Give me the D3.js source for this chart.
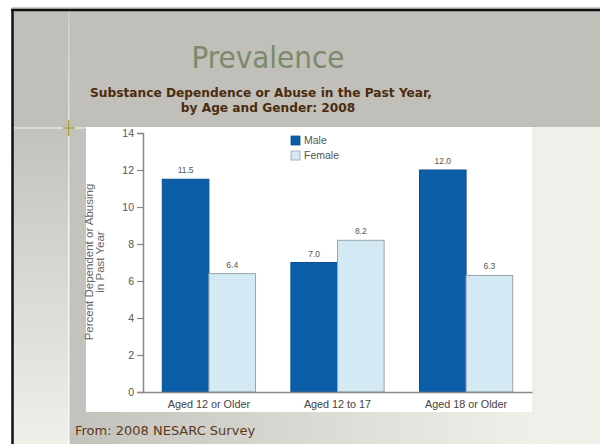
<!DOCTYPE html>
<html>
<head>
<meta charset="utf-8">
<script src="https://cdn.jsdelivr.net/npm/d3@7"></script>
<style>
  body { margin: 0; background: #fff; }
  svg { display: block; }
</style>
</head>
<body>
<div id="chartHolder"></div>
<script>
// data
const groups = ["Aged 12 or Older", "Aged 12 to 17", "Aged 18 or Older"];
const series = ["Male", "Female"];
const maleValues = [11.5, 7.0, 12.0];
const femaleValues = [6.4, 8.2, 6.3];
const yTicks = [0, 2, 4, 6, 8, 10, 12, 14];

const w = 600;
const h = 444;

const svg = d3.select("#chartHolder").append("svg")
  .attr("width", w)
  .attr("height", h);

const defs = svg.append("defs");
const gMain = defs.append("linearGradient").attr("id", "gMain")
  .attr("x1", "0").attr("y1", "0").attr("x2", "1").attr("y2", "0");
gMain.append("stop").attr("offset", "0").attr("stop-color", "#c3c1bb");
gMain.append("stop").attr("offset", "0.85").attr("stop-color", "#efeee8");
gMain.append("stop").attr("offset", "1").attr("stop-color", "#f1f0ea");
const gLeft = defs.append("linearGradient").attr("id", "gLeft")
  .attr("x1", "0").attr("y1", "0").attr("x2", "0").attr("y2", "1");
gLeft.append("stop").attr("offset", "0").attr("stop-color", "#c3c1bb");
gLeft.append("stop").attr("offset", "1").attr("stop-color", "#f0efe9");
const gVert = defs.append("linearGradient").attr("id", "gVert")
  .attr("x1", "0").attr("y1", "0").attr("x2", "0").attr("y2", "1");
gVert.append("stop").attr("offset", "0").attr("stop-color", "#d0d0d4");
gVert.append("stop").attr("offset", "0.5").attr("stop-color", "#f4f4f4");
gVert.append("stop").attr("offset", "1").attr("stop-color", "#fafafa");

// slide background
svg.append("rect").attr("x", 12).attr("y", 10).attr("width", w - 12).attr("height", 117)
  .attr("fill", "#c1bfb9");
svg.append("rect").attr("x", 69).attr("y", 127).attr("width", w - 69).attr("height", h - 127)
  .attr("fill", "url(#gMain)");
svg.append("rect").attr("x", 12).attr("y", 127).attr("width", 57).attr("height", h - 127)
  .attr("fill", "url(#gLeft)");

// decorative lines
svg.append("rect").attr("x", 68).attr("y", 10).attr("width", 1.5).attr("height", h - 10)
  .attr("fill", "url(#gVert)");
svg.append("line").attr("x1", 14).attr("x2", 86).attr("y1", 128).attr("y2", 128)
  .attr("stroke", "#e2e2e4").attr("stroke-width", 1.5);
svg.append("line").attr("x1", 63).attr("x2", 75).attr("y1", 128).attr("y2", 128)
  .attr("stroke", "#a9a53a").attr("stroke-width", 1.5);
svg.append("line").attr("x1", 68.7).attr("x2", 68.7).attr("y1", 120).attr("y2", 136)
  .attr("stroke", "#a9a53a").attr("stroke-width", 1.5);

// border
svg.append("line").attr("x1", 12).attr("x2", w).attr("y1", 8).attr("y2", 8)
  .attr("stroke", "#999").attr("stroke-width", 1);
svg.append("line").attr("x1", 11).attr("x2", w).attr("y1", 10).attr("y2", 10)
  .attr("stroke", "#111").attr("stroke-width", 2.5);
svg.append("line").attr("x1", 12.5).attr("x2", 12.5).attr("y1", 9).attr("y2", h)
  .attr("stroke", "#111").attr("stroke-width", 2.5);

// titles
svg.append("text")
  .attr("x", 268).attr("y", 68)
  .attr("text-anchor", "middle")
  .style("font-family", "'Liberation Sans Narrow', 'DejaVu Sans Condensed', sans-serif")
  .style("font-stretch", "condensed")
  .style("font-size", "31px")
  .attr("fill", "#7a8a6b")
  .text("Prevalence");
svg.append("text")
  .attr("x", 261).attr("y", 97)
  .attr("text-anchor", "middle")
  .style("font-family", "'DejaVu Sans', sans-serif")
  .style("font-weight", "bold")
  .style("font-size", "12.2px")
  .attr("fill", "#4b2c0e")
  .text("Substance Dependence or Abuse in the Past Year,");
svg.append("text")
  .attr("x", 268).attr("y", 112)
  .attr("text-anchor", "middle")
  .style("font-family", "'DejaVu Sans', sans-serif")
  .style("font-weight", "bold")
  .style("font-size", "12.2px")
  .attr("fill", "#4b2c0e")
  .text("by Age and Gender: 2008");

// chart panel
svg.append("rect").attr("x", 86).attr("y", 127).attr("width", 446).attr("height", 285)
  .attr("fill", "#fff");

const x0 = d3.scaleBand()
  .domain(groups)
  .range([143, 532])
  .paddingInner(0.275)
  .paddingOuter(0.15);
const x1 = d3.scaleBand()
  .domain(series)
  .range([0, x0.bandwidth()]);
const y = d3.scaleLinear()
  .domain([0, 14])
  .range([392, 133]);
const color = d3.scaleOrdinal().domain(series).range(["#0b5ea8", "#d3e9f3"]);
const strokeC = d3.scaleOrdinal().domain(series).range(["#0a4f8e", "#9aa4aa"]);

const rows = groups.map((g, i) => ({
  group: g,
  vals: [{ s: "Male", v: maleValues[i] }, { s: "Female", v: femaleValues[i] }]
}));

const gGroups = svg.selectAll(".grp")
  .data(rows)
  .enter()
  .append("g")
  .attr("class", "grp")
  .attr("transform", (d) => "translate(" + x0(d.group) + ",0)");

gGroups.selectAll("rect")
  .data((d) => d.vals)
  .enter()
  .append("rect")
  .attr("x", (d) => x1(d.s))
  .attr("y", (d) => y(d.v))
  .attr("width", x1.bandwidth())
  .attr("height", (d) => y(0) - y(d.v))
  .attr("fill", (d) => color(d.s))
  .attr("stroke", (d) => strokeC(d.s))
  .attr("stroke-width", 1);

gGroups.selectAll(".val")
  .data((d) => d.vals)
  .enter()
  .append("text")
  .attr("class", "val")
  .attr("x", (d) => x1(d.s) + x1.bandwidth() / 2)
  .attr("y", (d) => y(d.v) - 6)
  .attr("text-anchor", "middle")
  .style("font-family", "'Liberation Sans', Arial, sans-serif")
  .style("font-size", "8.5px")
  .attr("fill", "#555")
  .text((d) => d.v.toFixed(1));

// axes
const yAxis = d3.axisLeft(y).tickValues(yTicks).tickSize(6).tickPadding(3);
const yg = svg.append("g")
  .attr("transform", "translate(143,0)")
  .call(yAxis);
yg.select(".domain").attr("stroke", "#888").attr("stroke-width", 1.5);
yg.selectAll(".tick line").attr("stroke", "#888").attr("stroke-width", 1.2);
yg.selectAll(".tick text")
  .style("font-family", "'Liberation Sans', Arial, sans-serif")
  .style("font-size", "10.5px")
  .attr("fill", "#555");

const xAxis = d3.axisBottom(x0).tickSize(0).tickPadding(8);
const xg = svg.append("g")
  .attr("transform", "translate(0,392)")
  .call(xAxis);
xg.select(".domain").attr("stroke", "#888").attr("stroke-width", 1.5);
xg.selectAll(".tick text")
  .style("font-family", "'Liberation Sans', Arial, sans-serif")
  .style("font-size", "10.8px")
  .attr("fill", "#444");

// y axis title
const yt = svg.append("text")
  .attr("transform", "translate(93,262)rotate(-90)")
  .attr("text-anchor", "middle")
  .style("font-family", "'Liberation Sans', Arial, sans-serif")
  .style("font-size", "11.5px")
  .attr("fill", "#666");
yt.append("tspan").attr("x", 0).attr("dy", 0).text("Percent Dependent or Abusing");
yt.append("tspan").attr("x", 0).attr("dy", 11).text("in Past Year");

// legend
const legend = svg.selectAll(".legend")
  .data(series)
  .enter()
  .append("g")
  .attr("class", "legend")
  .attr("transform", (d, i) => "translate(291," + (136 + i * 15) + ")");
legend.append("rect")
  .attr("width", 9).attr("height", 9)
  .attr("fill", (d) => color(d))
  .attr("stroke", (d) => strokeC(d))
  .attr("stroke-width", 0.8);
legend.append("text")
  .attr("x", 13).attr("y", 8)
  .style("font-family", "'Liberation Sans', Arial, sans-serif")
  .style("font-size", "10.5px")
  .attr("fill", "#555")
  .text((d) => d);

// source note
svg.append("text")
  .attr("x", 75).attr("y", 435)
  .style("font-family", "'DejaVu Sans', sans-serif")
  .style("font-size", "13px")
  .attr("fill", "#5a3a18")
  .text("From: 2008 NESARC Survey");
</script>
</body>
</html>
